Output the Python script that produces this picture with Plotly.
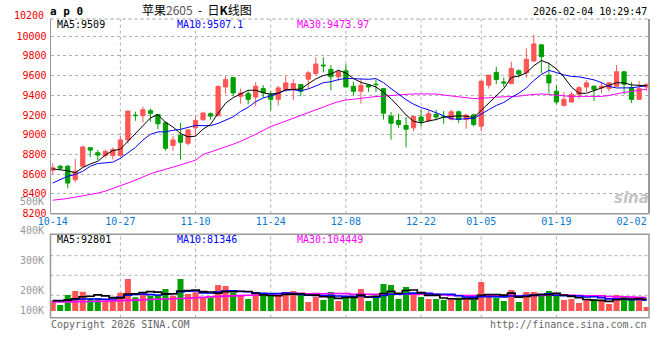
import plotly.graph_objects as go
import pandas as pd

# ---------------- data ----------------
dates = [
    "10-14", "10-15", "10-16", "10-17", "10-20", "10-21", "10-22", "10-23", "10-24", "10-27",
    "10-28", "10-29", "10-30", "10-31", "11-03", "11-04", "11-05", "11-06", "11-07", "11-10",
    "11-11", "11-12", "11-13", "11-14", "11-17", "11-18", "11-19", "11-20", "11-21", "11-24",
    "11-25", "11-26", "11-27", "11-28", "12-01", "12-02", "12-03", "12-04", "12-05", "12-08",
    "12-09", "12-10", "12-11", "12-12", "12-15", "12-16", "12-17", "12-18", "12-19", "12-22",
    "12-23", "12-24", "12-25", "12-26", "12-29", "12-30", "12-31", "01-05", "01-06", "01-07",
    "01-08", "01-09", "01-12", "01-13", "01-14", "01-15", "01-16", "01-19", "01-20", "01-21",
    "01-22", "01-23", "01-26", "01-27", "01-28", "01-29", "01-30", "02-02", "02-03", "02-04",
]
opens = [
    8641, 8682, 8682, 8545, 8682, 8869, 8818, 8791, 8791, 8791,
    8948, 9200, 9194, 9245, 9207, 9122, 8893, 8996, 8914, 9071,
    9153, 9214, 9194, 9486, 9582, 9391, 9418, 9384, 9469, 9411,
    9360, 9459, 9462, 9510, 9565, 9623, 9708, 9664, 9589, 9650,
    9493, 9442, 9503, 9514, 9469, 9190, 9146, 9095, 9071, 9180,
    9146, 9207, 9182, 9160, 9234, 9156, 9203, 9088, 9503, 9633,
    9537, 9520, 9650, 9629, 9749, 9913, 9606, 9442, 9299, 9333,
    9411, 9486, 9493, 9476, 9469, 9493, 9640, 9479, 9360, 9486,
]
highs = [
    8709, 8695, 8695, 8757, 8893, 8876, 8845, 8852, 8873, 8989,
    9245, 9235, 9286, 9266, 9210, 9136, 8989, 9122, 9052, 9187,
    9235, 9228, 9504, 9595, 9585, 9469, 9445, 9534, 9504, 9445,
    9496, 9606, 9565, 9512, 9646, 9786, 9786, 9708, 9657, 9718,
    9537, 9572, 9513, 9561, 9472, 9231, 9214, 9180, 9190, 9255,
    9248, 9255, 9241, 9255, 9248, 9214, 9214, 9554, 9608, 9691,
    9582, 9742, 9664, 9878, 10015, 9915, 9732, 9503, 9435, 9435,
    9496, 9554, 9503, 9537, 9537, 9708, 9642, 9537, 9547, 9516,
]
lows = [
    8597, 8641, 8457, 8518, 8672, 8774, 8743, 8767, 8750, 8774,
    8914, 9143, 9126, 9133, 9058, 8839, 8839, 8750, 8893, 8989,
    9143, 9153, 9190, 9411, 9391, 9316, 9309, 9288, 9377, 9248,
    9299, 9435, 9350, 9391, 9469, 9606, 9633, 9452, 9548, 9484,
    9401, 9316, 9435, 9435, 9156, 8951, 9071, 8873, 9037, 9084,
    9129, 9146, 9112, 9146, 9119, 9061, 9084, 9037, 9469, 9514,
    9486, 9514, 9582, 9582, 9742, 9623, 9418, 9309, 9288, 9330,
    9367, 9435, 9343, 9425, 9445, 9490, 9411, 9323, 9358, 9445,
]
closes = [
    8665, 8661, 8511, 8631, 8876, 8845, 8795, 8832, 8852, 8948,
    9241, 9195, 9255, 9218, 9112, 8863, 8948, 8925, 9050, 9146,
    9221, 9190, 9490, 9561, 9425, 9425, 9360, 9493, 9428, 9360,
    9476, 9527, 9520, 9442, 9629, 9718, 9701, 9589, 9640, 9486,
    9442, 9503, 9486, 9510, 9220, 9118, 9105, 9057, 9187, 9139,
    9214, 9180, 9178, 9234, 9156, 9200, 9105, 9544, 9606, 9561,
    9527, 9674, 9616, 9766, 9923, 9793, 9527, 9333, 9360, 9411,
    9479, 9527, 9459, 9493, 9527, 9640, 9514, 9360, 9469, 9514,
]
volumes = [
    78000, 46800, 124800, 156000, 150800, 98800, 98800, 85800, 85800, 143000,
    249600, 106600, 137800, 117000, 124800, 171600, 119600, 249600, 132600, 145600,
    106600, 104000, 202800, 195000, 143000, 124800, 93600, 148200, 119600, 117000,
    117000, 148200, 156000, 132600, 70200, 111800, 85800, 148200, 78000, 104000,
    117000, 171600, 78000, 106600, 210600, 202800, 93600, 187200, 124800, 109200,
    93600, 93600, 85800, 93600, 104000, 104000, 85800, 226200, 124800, 104000,
    78000, 163800, 70200, 148200, 148200, 117000, 156000, 119600, 85800, 93600,
    62400, 85800, 93600, 78000, 54600, 124800, 117000, 93600, 93600, 31200,
]
# moving-average values before a full window exists
ma5_head = [8655, 8648, 8635, 8615]
ma10_head = [8511, 8545, 8580, 8597, 8631, 8682, 8709, 8716, 8723]
ma30_head = [8337, 8344, 8354, 8368, 8381, 8395, 8409, 8429, 8453, 8484,
             8511, 8538, 8572, 8606, 8627, 8648, 8668, 8695, 8719, 8743,
             8800, 8825, 8848, 8875, 8905, 8935, 8968, 9005, 9045]
vma5_head = [80000, 80000, 85000, 95000]
vma10_head = [82000, 82000, 84000, 90000, 94000, 94000, 94000, 92000, 94000]
vma30_head = [70000, 70000, 71000, 72000, 73000, 74000, 75000, 76000, 78000, 80000,
              83000, 85000, 88000, 90000, 92000, 94000, 96000, 98000, 100000, 103000,
              106000, 110000, 113000, 116000, 118000, 120000, 123000, 125000, 128000]
price_ticks = [8200, 8400, 8600, 8800, 9000, 9200, 9400, 9600, 9800, 10000]
date_labels = ["10-14", "10-27", "11-10", "11-24", "12-08", "12-22", "01-05", "01-19", "02-02"]
grid_dates = ["10-27", "11-10", "11-24", "12-08", "12-22", "01-05", "01-19"]
vol_labels = ["500K", "400K", "300K", "200K", "100K"]
legend_main = ["MA5:9509", "MA10:9507.1", "MA30:9473.97"]
legend_vol = ["MA5:92801", "MA10:81346", "MA30:104449"]


def with_head(series, n, head):
    vals = pd.Series(series, dtype=float).rolling(n).mean().tolist()
    return list(head) + vals[len(head):]


ma5 = with_head(closes, 5, ma5_head)
ma10 = with_head(closes, 10, ma10_head)
ma30 = with_head(closes, 30, ma30_head)
vma5 = with_head(volumes, 5, vma5_head)
vma10 = with_head(volumes, 10, vma10_head)
vma30 = with_head(volumes, 30, vma30_head)

RED = "#ff5555"
GREEN = "#00a000"
MONO = "DejaVu Sans Mono"
W, H = 660, 360


def px(x):
    return x / W


def py(y):
    return 1 - y / H


fig = go.Figure()

fig.add_trace(go.Candlestick(
    x=dates, open=opens, high=highs, low=lows, close=closes,
    increasing=dict(line=dict(color=RED, width=1), fillcolor=RED),
    decreasing=dict(line=dict(color=GREEN, width=1), fillcolor=GREEN),
    whiskerwidth=0, xaxis="x", yaxis="y", showlegend=False, hoverinfo="skip",
))
for vals, col in [(ma30, "#ff00ff"), (ma10, "#0000ff"), (ma5, "#000000")]:
    fig.add_trace(go.Scatter(x=dates, y=vals, mode="lines", line=dict(color=col, width=1),
                             xaxis="x", yaxis="y", showlegend=False, hoverinfo="skip"))

vcolors = [RED if c >= o else GREEN for o, c in zip(opens, closes)]
fig.add_trace(go.Bar(x=dates, y=volumes, marker=dict(color=vcolors, line=dict(width=0)),
                     width=0.8, xaxis="x2", yaxis="y2", showlegend=False, hoverinfo="skip"))
for vals, col in [(vma30, "#ff00ff"), (vma10, "#0000ff"), (vma5, "#000000")]:
    fig.add_trace(go.Scatter(x=dates, y=vals, mode="lines", line=dict(color=col, width=1.6, shape="hvh"),
                             xaxis="x2", yaxis="y2", showlegend=False, hoverinfo="skip"))

# geometry (pixels)
L, R = 50.5, 649.0
M_TOP, M_BOT = 19.0, 213.7
V_TOP, V_BOT = 234.3, 317.7
first_c, step = 52.7, 7.518
xr = [(L - first_c) / step, (R - first_c) / step]
ppu = 10.145  # price units per pixel
yr = [8200, 8200 + (M_BOT - M_TOP) * ppu]
vpp = 7800  # volume per pixel
v_base = 311.0
vr = [-(V_BOT - v_base) * vpp, (v_base - V_TOP) * vpp]

fig.update_layout(
    template="none",
    width=W, height=H, autosize=False, margin=dict(l=0, r=0, t=0, b=0, pad=0),
    paper_bgcolor="white", plot_bgcolor="white", showlegend=False,
    boxgap=0.2, bargap=0.2,
    xaxis=dict(domain=[px(L), px(R)], anchor="y", type="category", range=xr, automargin=False,
               rangeslider=dict(visible=False), showgrid=False, zeroline=False,
               tickmode="array", tickvals=date_labels, ticktext=date_labels, ticks="",
               tickfont=dict(family=MONO, size=10, color="#0a78d2"), showline=False),
    yaxis=dict(domain=[py(M_BOT), py(M_TOP)], range=yr, tickvals=price_ticks, tickformat="d",
               automargin=False,
               showgrid=True, gridcolor="#b0b0b0", griddash="dot", gridwidth=1, zeroline=False,
               ticks="", tickfont=dict(family=MONO, size=10, color="#ee0000"), showline=False,
               ticklabelstandoff=3),
    xaxis2=dict(domain=[px(L), px(R)], anchor="y2", type="category", range=xr, matches="x",
                automargin=False,
                showticklabels=False, showgrid=False, zeroline=False, ticks=""),
    yaxis2=dict(domain=[py(V_BOT), py(V_TOP)], range=vr, showticklabels=False, automargin=False,
                showgrid=False, zeroline=False, ticks=""),
)

shapes = []
grid_style = dict(color="#b0b0b0", width=1, dash="dot")
for d in grid_dates:
    i = dates.index(d)
    for (t, b, xa) in [(M_TOP, M_BOT, "x"), (V_TOP, V_BOT, "x2")]:
        shapes.append(dict(type="line", xref=xa, yref="paper", x0=i, x1=i, y0=py(b), y1=py(t),
                           line=grid_style, layer="below"))
for gy in [255.7, 275.3, 295.3]:
    shapes.append(dict(type="line", xref="paper", yref="paper", x0=px(L), x1=px(R), y0=py(gy), y1=py(gy),
                       line=grid_style, layer="below"))
border = dict(color="#999999", width=1)
# main panel border
shapes += [
    dict(type="line", xref="paper", yref="paper", x0=px(L), x1=px(L), y0=py(M_BOT), y1=py(M_TOP), line=border),
    dict(type="line", xref="paper", yref="paper", x0=px(L), x1=px(R), y0=py(M_BOT), y1=py(M_BOT), line=dict(color="#999999", width=1.5)),
    dict(type="line", xref="paper", yref="paper", x0=px(R), x1=px(R), y0=py(M_BOT), y1=py(M_TOP), line=dict(color="#999999", width=2)),
    dict(type="line", xref="paper", yref="paper", x0=px(L), x1=px(R), y0=py(M_TOP), y1=py(M_TOP), line=dict(color="#999999", width=1, dash="dot")),
]
# volume panel border
shapes += [
    dict(type="rect", xref="paper", yref="paper", x0=px(L), x1=px(R), y0=py(V_BOT), y1=py(V_TOP),
         line=dict(color="#999999", width=1.5)),
]
fig.update_layout(shapes=shapes)

ann = []


def text(x, y, s, color="#000000", size=10, xanchor="left", family=MONO, **kw):
    ann.append(dict(x=px(x), y=py(y), xref="paper", yref="paper", text=s, showarrow=False,
                    xanchor=xanchor, yanchor="middle", font=dict(family=family, size=size, color=color), **kw))


text(46, 15.5, "10200", color="#ee0000", xanchor="right")
for lab, yy in zip(vol_labels, [201, 230.5, 260.5, 290, 310]):
    text(46, yy, lab, color="#999999", xanchor="right")
text(48, 12, "<b>a p 0</b>", size=11)
text(140, 9, "苹果<span style='color:#555555'>2605</span>&nbsp;&nbsp;-&nbsp;&nbsp;日<b>K</b>线图", size=12,
     family="Noto Sans CJK SC")
text(649, 12, "2026-02-04 10:29:47", xanchor="right")
for s, xx, col in zip(legend_main, [55, 175, 295], ["#000000", "#0000ff", "#ff00ff"]):
    text(xx, 24.5, s, color=col)
for s, xx, col in zip(legend_vol, [55, 175, 295], ["#000000", "#0000ff", "#ff00ff"]):
    text(xx, 239, s, color=col)
text(49, 324, "Copyright 2026 SINA.COM", color="#666666")
text(649, 324, "http://finance.sina.com.cn", color="#666666", xanchor="right")
text(651, 198, "<b><i>sina</i></b>", color="#c4c4c4", size=15, xanchor="right", family="DejaVu Sans")
fig.update_layout(annotations=ann)

fig.write_html("out.html", config={"displayModeBar": False},
               post_script="document.body.style.margin='0';document.body.style.overflow='hidden';")
